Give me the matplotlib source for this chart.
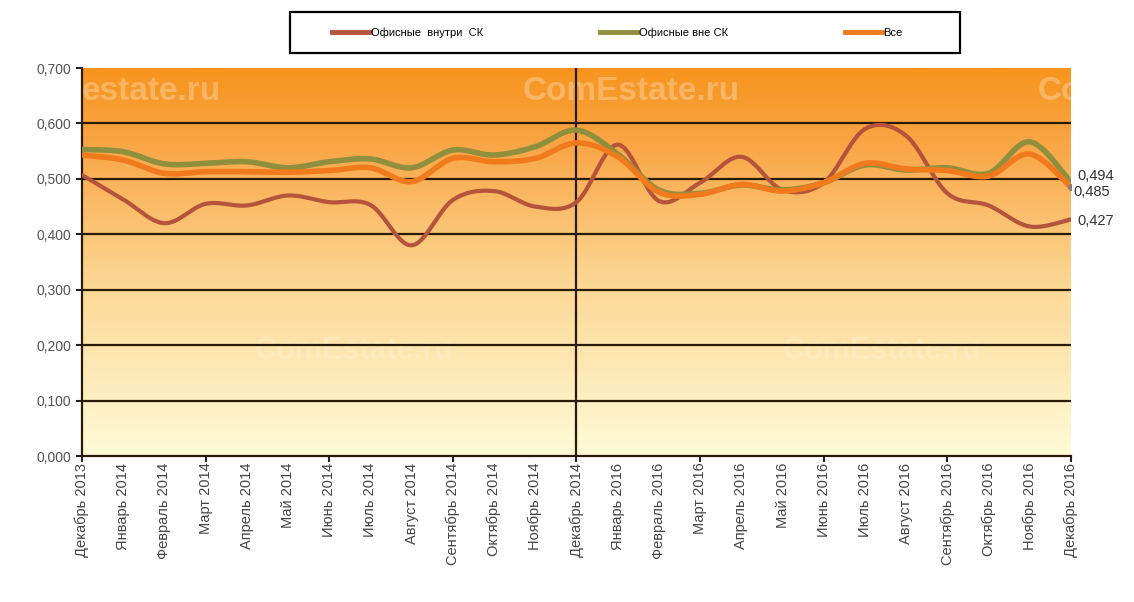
import matplotlib
matplotlib.use("Agg")
import matplotlib.pyplot as plt
import numpy as np
from matplotlib.colors import LinearSegmentedColormap
from matplotlib.ticker import FixedLocator, FuncFormatter
from matplotlib.lines import Line2D
from matplotlib.patches import Rectangle

plt.rcParams["font.family"] = ["Liberation Sans", "DejaVu Sans"]

months = [
    "Декабрь 2013", "Январь 2014", "Февраль 2014", "Март 2014", "Апрель 2014",
    "Май 2014", "Июнь 2014", "Июль 2014", "Август 2014", "Сентябрь 2014",
    "Октябрь 2014", "Ноябрь 2014", "Декабрь 2014", "Январь 2016", "Февраль 2016",
    "Март 2016", "Апрель 2016", "Май 2016", "Июнь 2016", "Июль 2016",
    "Август 2016", "Сентябрь 2016", "Октябрь 2016", "Ноябрь 2016", "Декабрь 2016",
]

inside_sk = [
    0.507, 0.463, 0.420, 0.455, 0.452, 0.470, 0.458, 0.453, 0.380, 0.462,
    0.478, 0.450, 0.458, 0.562, 0.460, 0.493, 0.540, 0.480, 0.493, 0.590,
    0.578, 0.474, 0.452, 0.414, 0.427,
]
outside_sk = [
    0.553, 0.549, 0.527, 0.528, 0.531, 0.520, 0.531, 0.536, 0.520, 0.552,
    0.543, 0.558, 0.588, 0.545, 0.480, 0.474, 0.489, 0.480, 0.493, 0.525,
    0.516, 0.520, 0.510, 0.567, 0.494,
]
all_offices = [
    0.543, 0.534, 0.510, 0.513, 0.513, 0.512, 0.515, 0.520, 0.495, 0.537,
    0.531, 0.537, 0.565, 0.540, 0.476, 0.472, 0.490, 0.478, 0.493, 0.528,
    0.518, 0.515, 0.505, 0.545, 0.485,
]

series_names = ["Офисные  внутри  СК", "Офисные вне СК", "Все"]
series_colors = ["#b5533c", "#8f8f3e", "#f07a1c"]
series_widths = [3.0, 4.0, 4.0]


def smooth(y, steps=12):
    # Catmull-Rom curve through the points, like Excel's smoothed line
    y = np.asarray(y, dtype=float)
    x = np.arange(len(y), dtype=float)
    px = np.concatenate([[x[0]], x, [x[-1]]])
    py = np.concatenate([[y[0]], y, [y[-1]]])
    xs, ys = [], []
    t = np.linspace(0, 1, steps, endpoint=False)
    for i in range(1, len(px) - 2):
        for arr, out in ((px, xs), (py, ys)):
            p0, p1, p2, p3 = arr[i - 1], arr[i], arr[i + 1], arr[i + 2]
            out.extend(
                0.5 * ((2 * p1) + (-p0 + p2) * t
                       + (2 * p0 - 5 * p1 + 4 * p2 - p3) * t ** 2
                       + (-p0 + 3 * p1 - 3 * p2 + p3) * t ** 3)
            )
    xs.append(x[-1])
    ys.append(y[-1])
    return np.array(xs), np.array(ys)


fig = plt.figure(figsize=(11.34, 6.02), dpi=100)
ax = fig.add_axes([0.0723, 0.2425, 0.8721, 0.6445])

n = len(months)
ax.set_xlim(0, n - 1)
ax.set_ylim(0, 0.7)

# gradient background
cmap = LinearSegmentedColormap.from_list(
    "bg", [(0.0, "#fffbd8"), (0.45, "#fcd793"), (0.8, "#f9a646"), (1.0, "#f7941d")]
)
grad = np.linspace(0, 1, 256).reshape(-1, 1)
ax.imshow(grad, extent=[0, n - 1, 0, 0.7], origin="lower", aspect="auto",
          cmap=cmap, zorder=0)

# watermarks
for xw, txt in [(0.0, "estate.ru"), (10.7, "ComEstate.ru"), (23.2, "Co")]:
    ax.text(xw, 0.657, txt, color="white", alpha=0.28, fontsize=24,
            fontweight="bold", ha="left", va="center", clip_on=True, zorder=1)
for xw in [4.2, 17.0]:
    ax.text(xw, 0.19, "ComEstate.ru", color="white", alpha=0.18, fontsize=22,
            fontweight="bold", ha="left", va="center", clip_on=True, zorder=1)

for yv in np.arange(0.1, 0.65, 0.1):
    ax.axhline(yv, color="#2a1a08", linewidth=1.6, zorder=2)
ax.axvline(12, color="#2a1a08", linewidth=1.6, zorder=2)

for vals, name, col, lw in zip(
    [inside_sk, outside_sk, all_offices], series_names, series_colors, series_widths
):
    xs, ys = smooth(vals)
    ax.plot(xs, ys, color=col, linewidth=lw, solid_capstyle="round", zorder=3)

ax.plot([n - 1], [all_offices[-1]], "o", color="#8a7f7a", markersize=4, zorder=4)

ax.text(n - 1 + 0.15, outside_sk[-1] + 0.012, "0,494", fontsize=10.5, color="#333333",
        ha="left", va="center", clip_on=False)
ax.text(n - 1 + 0.05, all_offices[-1] - 0.008, "0,485", fontsize=10.5, color="#333333",
        ha="left", va="center", clip_on=False)
ax.text(n - 1 + 0.15, inside_sk[-1] - 0.003, "0,427", fontsize=10.5, color="#333333",
        ha="left", va="center", clip_on=False)

ax.yaxis.set_major_locator(FixedLocator(np.arange(0, 0.71, 0.1)))
ax.yaxis.set_major_formatter(FuncFormatter(lambda v, p: f"{v:.3f}".replace(".", ",")))
ax.set_xticks(range(0, n, 3))
ax.set_xticklabels([])
ax.tick_params(axis="x", which="major", direction="out", length=4, width=1.5,
               color="#222222")
ax.tick_params(axis="y", direction="out", length=4, width=1.5, color="#222222",
               labelsize=10, labelcolor="#555555")
for i, lab in enumerate(months):
    ax.text(i, -0.012, lab, rotation=90, ha="center", va="top", fontsize=10.5,
            color="#444444", clip_on=False)

for side in ["top", "right"]:
    ax.spines[side].set_visible(False)
ax.spines["left"].set_color("#2a1a08")
ax.spines["left"].set_linewidth(1.6)
ax.spines["bottom"].set_color("#2a1a08")
ax.spines["bottom"].set_linewidth(1.6)

# legend box
fig.patches.append(Rectangle((0.2557, 0.912), 0.5909, 0.068, transform=fig.transFigure,
                             facecolor="white", edgecolor="black", linewidth=1.6))
handles = [Line2D([0], [0], color=c, linewidth=3.5) for c in series_colors]
leg = fig.legend(handles, series_names, loc="center", ncol=3,
                 bbox_to_anchor=(0.5445, 0.946), frameon=False, fontsize=8,
                 handlelength=3.4, handletextpad=0.1, columnspacing=10.5)

fig.savefig("out.png", dpi=100)
